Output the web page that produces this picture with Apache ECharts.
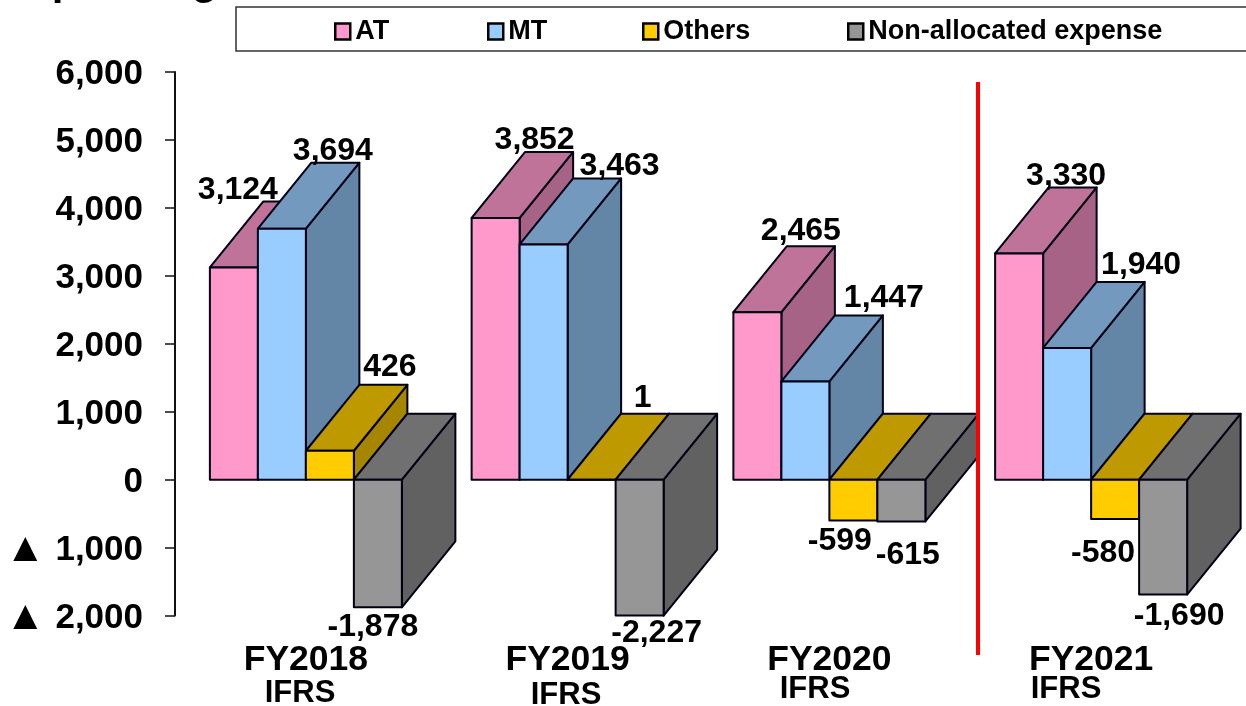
<!DOCTYPE html>
<html>
<head>
<meta charset="utf-8">
<style>html,body{margin:0;padding:0;background:#fff}#chart{width:1246px;height:706px}</style>
<script src="https://cdn.jsdelivr.net/npm/echarts@6/dist/echarts.min.js"></script>
</head>
<body>
<div id="chart"></div>
<script>
const categories = ['FY2018', 'FY2019', 'FY2020', 'FY2021'];
const atValues = [3124, 3852, 2465, 3330];
const mtValues = [3694, 3463, 1447, 1940];
const othersValues = [426, 1, -599, -580];
const nonAllocatedValues = [-1878, -2227, -615, -1690];

const FONT = '"Liberation Sans", Arial, sans-serif';
const yMin = -2000, yMax = 6000;
const barRatio = 48 / 261.75, depthXRatio = 53.5 / 261.75, depthValue = 971;

// Label offsets (px) from the front face's value edge, one list per series
const labelShift = {
  AT: [[4, -77], [39, -78], [43.5, -81], [47, -77]],
  MT: [[51, -78], [76, -78], [78.5, -83], [74, -83]],
  Others: [[60, -84], [51, -81], [-13.5, 21], [-12, 34]],
  'Non-allocated expense': [[-5, 20], [17, 18], [6.5, 33.5], [16, 21.5]]
};

const seriesDefs = [
  { name: 'AT', values: atValues, front: '#FF99CC', top: '#BF7399', side: '#A66385' },
  { name: 'MT', values: mtValues, front: '#99CCFF', top: '#7399BF', side: '#6385A6' },
  { name: 'Others', values: othersValues, front: '#FFCC00', top: '#BF9900', side: '#A68500' },
  { name: 'Non-allocated expense', values: nonAllocatedValues, front: '#969696', top: '#707070', side: '#616161' }
];

function makeRender(def, k) {
  return function (params, api) {
    const cat = api.value(0), v = api.value(1);
    const band = api.size([1, 0])[0];
    const w = band * barRatio, dx = band * depthXRatio;
    const dy = api.size([0, depthValue])[1];
    const x = api.coord([cat, 0])[0] - 2 * w + k * w;
    const top = api.coord([cat, Math.max(v, 0)])[1];
    const bottom = api.coord([cat, Math.max(Math.min(v, 0), yMin)])[1];
    const line = { stroke: '#000014', lineWidth: 2, lineJoin: 'round' };
    const poly = (points, fill) => ({
      type: 'polygon', z2: k + 1,
      shape: { points }, style: Object.assign({ fill }, line)
    });
    const shift = labelShift[def.name][cat];
    const anchorY = v >= 0 ? top : bottom;
    return {
      type: 'group',
      children: [
        poly([[x + w, top], [x + w + dx, top - dy], [x + w + dx, bottom - dy], [x + w, bottom]], def.side),
        poly([[x, top], [x + dx, top - dy], [x + w + dx, top - dy], [x + w, top]], def.top),
        poly([[x, top], [x + w, top], [x + w, bottom], [x, bottom]], def.front),
        {
          type: 'text', z2: 100,
          style: {
            text: v.toLocaleString('en-US'),
            x: x + w / 2 + shift[0], y: anchorY + shift[1],
            align: 'center', verticalAlign: 'middle',
            font: 'bold 32px ' + FONT, fill: '#000'
          }
        }
      ]
    };
  };
}

const legendLefts = [334, 487, 642, 847];

const option = {
  animation: false,
  backgroundColor: '#fff',
  title: {
    text: 'Operating', left: 14, top: -44,
    textStyle: { fontFamily: FONT, fontWeight: 'bold', fontSize: 42, color: '#000' }
  },
  legend: seriesDefs.map((d, i) => ({
    left: legendLefts[i], top: 18, padding: 0,
    itemWidth: 15, itemHeight: 16,
    data: [{ name: d.name, icon: 'rect', itemStyle: { color: d.front, borderColor: '#000', borderWidth: 2.5 } }],
    selectedMode: false,
    textStyle: { fontFamily: FONT, fontWeight: 'bold', fontSize: 27, color: '#000' }
  })),
  grid: { left: 175, top: 72, width: 1047, height: 543.6 },
  xAxis: {
    type: 'category', data: categories,
    axisLine: { show: false, onZero: false }, axisTick: { show: false },
    axisLabel: { margin: 27, fontFamily: FONT, fontWeight: 'bold', fontSize: 35.5, color: '#000' }
  },
  yAxis: {
    type: 'value', min: yMin, max: yMax, interval: 1000,
    splitLine: { show: false },
    axisLine: { show: true, onZero: false, lineStyle: { color: '#111', width: 2 } },
    axisTick: { show: true, length: 10, lineStyle: { color: '#111', width: 1.5 } },
    axisLabel: {
      margin: 32, fontFamily: FONT, fontWeight: 'bold', fontSize: 35, color: '#000',
      padding: [5, 0, 0, 0],
      rich: { t: { fontFamily: FONT, fontSize: 41, fontWeight: 'bold', color: '#000', padding: [0, 0, 0, 0] } },
      formatter: v => (v < 0 ? '{t|▲} ' + (-v).toLocaleString('en-US') : v.toLocaleString('en-US'))
    }
  },
  series: seriesDefs.map((d, k) => ({
    name: d.name, type: 'custom', z: 2, clip: false,
    itemStyle: { color: d.front },
    encode: { x: 0, y: 1 },
    data: d.values.map((v, i) => [i, v]),
    renderItem: makeRender(d, k)
  })),
  graphic: [
    { type: 'rect', silent: true, z: 0, shape: { x: 236, y: 7, width: 1030, height: 44 },
      style: { fill: '#fff', stroke: '#333', lineWidth: 1.5 } },
    { type: 'line', silent: true, z: 50, shape: { x1: 978, y1: 82, x2: 978, y2: 655 },
      style: { stroke: '#FF0000', lineWidth: 4 } },
    ...[['IFRS', 300, 693], ['IFRS', 566, 695], ['IFRS', 815, 689], ['IFRS', 1066, 689]].map(t => ({
      type: 'text', silent: true, z: 50,
      style: { text: t[0], x: t[1], y: t[2], align: 'center', verticalAlign: 'middle',
        font: 'bold 31px ' + FONT, fill: '#000' }
    }))
  ]
};

echarts.init(document.getElementById('chart'), null, { renderer: 'canvas' }).setOption(option);
</script>
</body>
</html>
